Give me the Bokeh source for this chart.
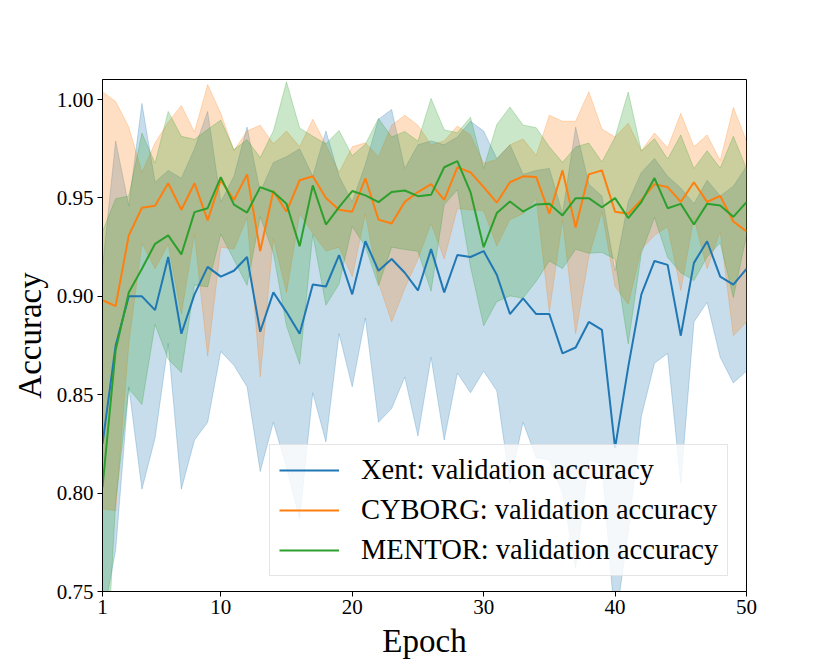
import numpy as np
from bokeh.plotting import figure
from bokeh.models import FixedTicker, Range1d, PrintfTickFormatter
from bokeh.embed import file_html
from bokeh.resources import INLINE

epochs = list(range(1, 51))

xent_mean = [0.825, 0.875, 0.900, 0.900, 0.893, 0.920, 0.881, 0.901, 0.915, 0.910,
             0.913, 0.920, 0.882, 0.902, 0.892, 0.881, 0.906, 0.905, 0.921, 0.901,
             0.928, 0.913, 0.919, 0.912, 0.903, 0.924, 0.902, 0.921, 0.920, 0.923,
             0.911, 0.891, 0.899, 0.891, 0.891, 0.871, 0.874, 0.887, 0.883, 0.823,
             0.864, 0.901, 0.918, 0.916, 0.880, 0.917, 0.928, 0.910, 0.906, 0.914]
xent_std = [0.090, 0.104, 0.046, 0.098, 0.065, 0.044, 0.079, 0.074, 0.079, 0.038,
            0.048, 0.066, 0.071, 0.066, 0.079, 0.094, 0.055, 0.079, 0.040, 0.047,
            0.039, 0.077, 0.076, 0.053, 0.074, 0.055, 0.075, 0.060, 0.069, 0.061,
            0.059, 0.086, 0.063, 0.073, 0.074, 0.071, 0.112, 0.070, 0.068, 0.090,
            0.084, 0.062, 0.052, 0.045, 0.075, 0.030, 0.031, 0.041, 0.050, 0.052]

cyborg_mean = [0.898, 0.895, 0.931, 0.945, 0.946, 0.9575, 0.944, 0.9575, 0.9386, 0.959,
               0.949, 0.962, 0.923, 0.9535, 0.943, 0.959, 0.961, 0.950, 0.944, 0.943,
               0.960, 0.939, 0.937, 0.948, 0.953, 0.957, 0.949, 0.9656, 0.963, 0.9555,
               0.9476, 0.958, 0.961, 0.9606, 0.942, 0.964, 0.935, 0.962, 0.964, 0.943,
               0.942, 0.949, 0.957, 0.9555, 0.948, 0.958, 0.948, 0.951, 0.938, 0.933]
cyborg_std = [0.106, 0.104, 0.055, 0.018, 0.032, 0.031, 0.053, 0.026, 0.069, 0.034,
              0.025, 0.022, 0.064, 0.024, 0.041, 0.017, 0.029, 0.027, 0.019, 0.033,
              0.018, 0.032, 0.050, 0.044, 0.034, 0.020, 0.030, 0.021, 0.019, 0.012,
              0.022, 0.019, 0.019, 0.011, 0.050, 0.025, 0.054, 0.042, 0.021, 0.038,
              0.046, 0.025, 0.026, 0.020, 0.045, 0.018, 0.034, 0.018, 0.058, 0.046]

mentor_mean = [0.803, 0.8726, 0.902, 0.914, 0.9267, 0.931, 0.9213, 0.9428, 0.9448, 0.9606,
               0.9466, 0.9426, 0.9555, 0.953, 0.947, 0.9255, 0.9564, 0.9365, 0.9453, 0.9535,
               0.9513, 0.9479, 0.953, 0.9538, 0.9509, 0.9516, 0.9656, 0.9687, 0.953, 0.925,
               0.9423, 0.9482, 0.9431, 0.9467, 0.947, 0.9411, 0.9499, 0.9499, 0.9453, 0.9499,
               0.9398, 0.9479, 0.9601, 0.9448, 0.947, 0.9365, 0.947, 0.9462, 0.9404, 0.9479]
mentor_std = [0.130, 0.077, 0.049, 0.069, 0.041, 0.063, 0.060, 0.037, 0.040, 0.029,
              0.028, 0.037, 0.015, 0.031, 0.062, 0.060, 0.025, 0.041, 0.039, 0.018,
              0.026, 0.0425, 0.028, 0.030, 0.028, 0.049, 0.019, 0.0145, 0.038, 0.040,
              0.045, 0.048, 0.044, 0.039, 0.029, 0.027, 0.026, 0.028, 0.023, 0.031,
              0.064, 0.026, 0.020, 0.025, 0.035, 0.0285, 0.027, 0.019, 0.041, 0.017]

labels = ["Xent: validation accuracy", "CYBORG: validation accuracy", "MENTOR: validation accuracy"]
colors = ["#1f77b4", "#ff7f0e", "#2ca02c"]
x_ticks = [1, 10, 20, 30, 40, 50]
y_ticks = [0.75, 0.80, 0.85, 0.90, 0.95, 1.00]

FONT = "Liberation Serif"

p = figure(frame_width=644, frame_height=512, output_backend="svg", toolbar_location=None,
           x_range=Range1d(1, 50), y_range=Range1d(0.75, 1.0102),
           min_border_left=102, min_border_top=79, min_border_right=78, min_border_bottom=65,
           background_fill_color="white", border_fill_color="white")
p.grid.visible = False
p.outline_line_color = "black"
p.outline_line_width = 1

series = [(xent_mean, xent_std), (cyborg_mean, cyborg_std), (mentor_mean, mentor_std)]

x_arr = np.array(epochs, dtype=float)
for (m, s), c in zip(series, colors):
    m = np.array(m)
    s = np.array(s)
    up = m + s
    lo = m - s
    xs = np.concatenate([x_arr, x_arr[::-1]])
    ys = np.concatenate([up, lo[::-1]])
    p.patch(xs, ys, fill_color=c, fill_alpha=0.25, line_color=c, line_alpha=0.25, line_width=1)

for (m, s), c, lab in zip(series, colors, labels):
    p.line(epochs, m, line_color=c, line_width=2, legend_label=lab)

for ax in (p.xaxis[0], p.yaxis[0]):
    ax.axis_line_color = "black"
    ax.major_tick_line_color = "black"
    ax.major_tick_in = 0
    ax.major_tick_out = 5
    ax.minor_tick_line_color = None
    ax.major_label_text_font = FONT
    ax.major_label_text_font_size = "21px"
    ax.major_label_text_color = "black"
    ax.axis_label_text_font = FONT
    ax.axis_label_text_font_size = "33px"
    ax.axis_label_text_font_style = "normal"
    ax.axis_label_text_color = "black"

p.xaxis.ticker = FixedTicker(ticks=x_ticks)
p.yaxis.ticker = FixedTicker(ticks=y_ticks)
p.yaxis.formatter = PrintfTickFormatter(format="%.2f")
p.xaxis.axis_label = "Epoch"
p.yaxis.axis_label = "Accuracy"
p.xaxis.major_label_standoff = 3
p.yaxis.major_label_standoff = 4
p.xaxis.axis_label_standoff = 6
p.yaxis.axis_label_standoff = 6

lg = p.legend[0]
lg.location = (167, 15)
lg.border_line_color = "#cccccc"
lg.border_line_width = 1
lg.background_fill_color = "white"
lg.background_fill_alpha = 0.8
lg.label_text_font = FONT
lg.label_text_font_size = "28.5px"
lg.label_text_color = "black"
lg.glyph_width = 60
lg.glyph_height = 28
lg.label_height = 28
lg.label_standoff = 22
lg.padding = 9
lg.spacing = 8
lg.margin = 0

open("out.html", "w").write(file_html(p, INLINE))
